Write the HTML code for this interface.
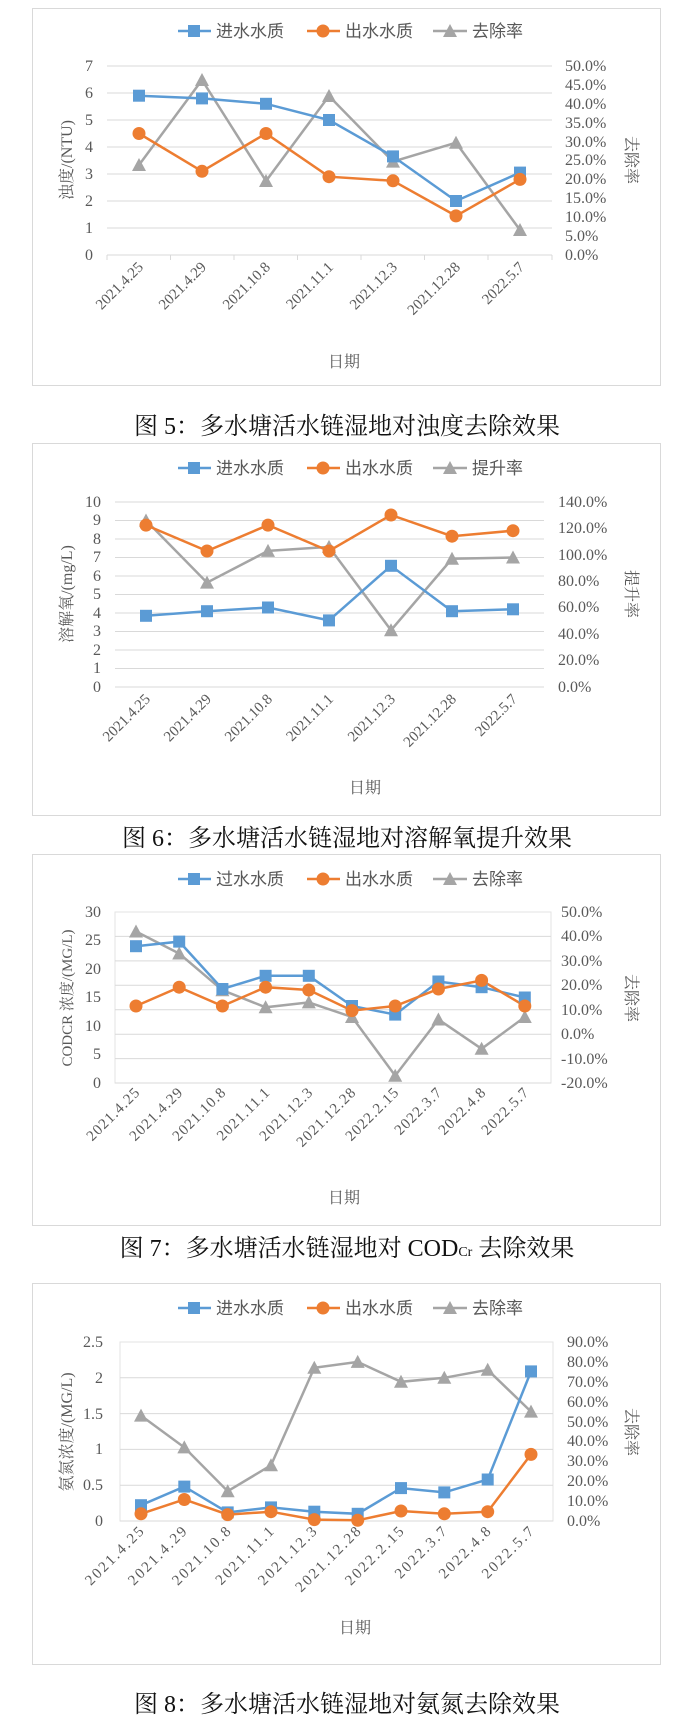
<!DOCTYPE html>
<html><head><meta charset="utf-8"><style>
html,body{margin:0;padding:0;background:#fff}
svg{display:block}
.t{font-family:"Liberation Serif","Noto Serif CJK SC",serif;fill:#595959;font-size:16px}
.x{font-size:15px}
.lg{font-family:"Liberation Sans","Noto Sans CJK SC",sans-serif;fill:#595959;font-size:17px}
.cap{font-family:"Liberation Serif","Noto Serif CJK SC",serif;fill:#111;font-size:24px}
.g{stroke:#d9d9d9;stroke-width:1}
.b{fill:none;stroke:#5b9bd5;stroke-width:2.5}
.o{fill:none;stroke:#ed7d31;stroke-width:2.5}
.y{fill:none;stroke:#a5a5a5;stroke-width:2.5}
</style></head><body>
<svg width="694" height="1725" viewBox="0 0 694 1725" xmlns="http://www.w3.org/2000/svg">
<defs>
<rect id="sq" x="-6" y="-6" width="12" height="12" fill="#5b9bd5"/>
<circle id="ci" r="6.5" fill="#ed7d31"/>
<polygon id="tr" points="0,-7 7,6 -7,6" fill="#a5a5a5"/>
</defs>

<!-- ============ CHART 1 ============ -->
<rect x="32.5" y="8.5" width="628" height="377" fill="#fff" stroke="#d9d9d9"/>
<g>
<line x1="178" y1="31" x2="211" y2="31" stroke="#5b9bd5" stroke-width="2.5"/><use href="#sq" x="194" y="31"/><text class="lg" x="216" y="37">进水水质</text>
<line x1="307" y1="31" x2="340" y2="31" stroke="#ed7d31" stroke-width="2.5"/><use href="#ci" x="323" y="31"/><text class="lg" x="345" y="37">出水水质</text>
<line x1="433" y1="31" x2="467" y2="31" stroke="#a5a5a5" stroke-width="2.5"/><use href="#tr" x="450" y="31"/><text class="lg" x="472" y="37">去除率</text>
</g>
<g class="g">
<line x1="107" y1="66" x2="552" y2="66"/><line x1="107" y1="93" x2="552" y2="93"/><line x1="107" y1="120" x2="552" y2="120"/><line x1="107" y1="147" x2="552" y2="147"/><line x1="107" y1="174" x2="552" y2="174"/><line x1="107" y1="201" x2="552" y2="201"/><line x1="107" y1="228" x2="552" y2="228"/><line x1="107" y1="255" x2="552" y2="255"/>
<line x1="107" y1="255" x2="107" y2="260"/><line x1="170.5" y1="255" x2="170.5" y2="260"/><line x1="234" y1="255" x2="234" y2="260"/><line x1="297.5" y1="255" x2="297.5" y2="260"/><line x1="361" y1="255" x2="361" y2="260"/><line x1="424.5" y1="255" x2="424.5" y2="260"/><line x1="488" y1="255" x2="488" y2="260"/><line x1="552" y1="255" x2="552" y2="260"/>
</g>
<g class="t" text-anchor="end">
<text x="93" y="71">7</text><text x="93" y="98">6</text><text x="93" y="125">5</text><text x="93" y="152">4</text><text x="93" y="179">3</text><text x="93" y="206">2</text><text x="93" y="233">1</text><text x="93" y="260">0</text>
</g>
<g class="t">
<text x="565" y="71">50.0%</text><text x="565" y="90">45.0%</text><text x="565" y="109">40.0%</text><text x="565" y="128">35.0%</text><text x="565" y="147">30.0%</text><text x="565" y="165">25.0%</text><text x="565" y="184">20.0%</text><text x="565" y="203">15.0%</text><text x="565" y="222">10.0%</text><text x="565" y="241">5.0%</text><text x="565" y="260">0.0%</text>
</g>
<text class="t" transform="translate(72,160) rotate(-90)" text-anchor="middle">浊度/(NTU)</text>
<text class="t" transform="translate(626,160) rotate(90)" text-anchor="middle">去除率</text>
<g class="t x" text-anchor="end">
<text transform="translate(144,268) rotate(-45)">2021.4.25</text>
<text transform="translate(207,268) rotate(-45)">2021.4.29</text>
<text transform="translate(271,268) rotate(-45)">2021.10.8</text>
<text transform="translate(334,268) rotate(-45)">2021.11.1</text>
<text transform="translate(398,268) rotate(-45)">2021.12.3</text>
<text transform="translate(461,268) rotate(-45)">2021.12.28</text>
<text transform="translate(525,268) rotate(-45)">2022.5.7</text>
</g>
<text class="t" x="344" y="367" text-anchor="middle">日期</text>
<polyline class="y" points="139,165 202,80 266,181 329,96 393,161.6 456,142.7 520,230"/>
<polyline class="b" points="139,95.7 202,98.4 266,103.8 329,120 393,156.4 456,201 520,172.6"/>
<polyline class="o" points="139,133.5 202,171.3 266,133.5 329,176.7 393,180.8 456,215.9 520,179.4"/>
<use href="#tr" x="139" y="165"/><use href="#tr" x="202" y="80"/><use href="#tr" x="266" y="181"/><use href="#tr" x="329" y="96"/><use href="#tr" x="393" y="161.6"/><use href="#tr" x="456" y="142.7"/><use href="#tr" x="520" y="230"/>
<use href="#sq" x="139" y="95.7"/><use href="#sq" x="202" y="98.4"/><use href="#sq" x="266" y="103.8"/><use href="#sq" x="329" y="120"/><use href="#sq" x="393" y="156.4"/><use href="#sq" x="456" y="201"/><use href="#sq" x="520" y="172.6"/>
<use href="#ci" x="139" y="133.5"/><use href="#ci" x="202" y="171.3"/><use href="#ci" x="266" y="133.5"/><use href="#ci" x="329" y="176.7"/><use href="#ci" x="393" y="180.8"/><use href="#ci" x="456" y="215.9"/><use href="#ci" x="520" y="179.4"/>
<text class="cap" x="347" y="434" text-anchor="middle">图 5：多水塘活水链湿地对浊度去除效果</text>

<!-- ============ CHART 2 ============ -->
<rect x="32.5" y="443.5" width="628" height="372" fill="#fff" stroke="#d9d9d9"/>
<g>
<line x1="178" y1="468" x2="211" y2="468" stroke="#5b9bd5" stroke-width="2.5"/><use href="#sq" x="194" y="468"/><text class="lg" x="216" y="474">进水水质</text>
<line x1="307" y1="468" x2="340" y2="468" stroke="#ed7d31" stroke-width="2.5"/><use href="#ci" x="323" y="468"/><text class="lg" x="345" y="474">出水水质</text>
<line x1="433" y1="468" x2="467" y2="468" stroke="#a5a5a5" stroke-width="2.5"/><use href="#tr" x="450" y="468"/><text class="lg" x="472" y="474">提升率</text>
</g>
<g class="g">
<line x1="115" y1="502" x2="544" y2="502"/><line x1="115" y1="520.5" x2="544" y2="520.5"/><line x1="115" y1="539" x2="544" y2="539"/><line x1="115" y1="557.5" x2="544" y2="557.5"/><line x1="115" y1="576" x2="544" y2="576"/><line x1="115" y1="594.5" x2="544" y2="594.5"/><line x1="115" y1="613" x2="544" y2="613"/><line x1="115" y1="631.5" x2="544" y2="631.5"/><line x1="115" y1="650" x2="544" y2="650"/><line x1="115" y1="668.5" x2="544" y2="668.5"/><line x1="115" y1="687" x2="544" y2="687"/>
</g>
<g class="t" text-anchor="end">
<text x="101" y="507">10</text><text x="101" y="525">9</text><text x="101" y="544">8</text><text x="101" y="562">7</text><text x="101" y="581">6</text><text x="101" y="599">5</text><text x="101" y="618">4</text><text x="101" y="636">3</text><text x="101" y="655">2</text><text x="101" y="673">1</text><text x="101" y="692">0</text>
</g>
<g class="t">
<text x="558" y="507">140.0%</text><text x="558" y="533">120.0%</text><text x="558" y="560">100.0%</text><text x="558" y="586">80.0%</text><text x="558" y="612">60.0%</text><text x="558" y="639">40.0%</text><text x="558" y="665">20.0%</text><text x="558" y="692">0.0%</text>
</g>
<text class="t" transform="translate(72,594) rotate(-90)" text-anchor="middle">溶解氧/(mg/L)</text>
<text class="t" transform="translate(626,594) rotate(90)" text-anchor="middle">提升率</text>
<g class="t x" text-anchor="end">
<text transform="translate(151,700) rotate(-45)">2021.4.25</text>
<text transform="translate(212,700) rotate(-45)">2021.4.29</text>
<text transform="translate(273,700) rotate(-45)">2021.10.8</text>
<text transform="translate(334,700) rotate(-45)">2021.11.1</text>
<text transform="translate(396,700) rotate(-45)">2021.12.3</text>
<text transform="translate(457,700) rotate(-45)">2021.12.28</text>
<text transform="translate(518,700) rotate(-45)">2022.5.7</text>
</g>
<text class="t" x="365" y="793" text-anchor="middle">日期</text>
<polyline class="y" points="146,520.5 207,582.6 268,550.9 329,546.9 391,630.2 452,558.8 513,557.5"/>
<polyline class="b" points="146,615.8 207,611.2 268,607.5 329,620.4 391,565.8 452,611.2 513,609.3"/>
<polyline class="o" points="146,525.1 207,551 268,525.1 329,551 391,515 452,536.2 513,530.7"/>
<use href="#tr" x="146" y="520.5"/><use href="#tr" x="207" y="582.6"/><use href="#tr" x="268" y="550.9"/><use href="#tr" x="329" y="546.9"/><use href="#tr" x="391" y="630.2"/><use href="#tr" x="452" y="558.8"/><use href="#tr" x="513" y="557.5"/>
<use href="#sq" x="146" y="615.8"/><use href="#sq" x="207" y="611.2"/><use href="#sq" x="268" y="607.5"/><use href="#sq" x="329" y="620.4"/><use href="#sq" x="391" y="565.8"/><use href="#sq" x="452" y="611.2"/><use href="#sq" x="513" y="609.3"/>
<use href="#ci" x="146" y="525.1"/><use href="#ci" x="207" y="551"/><use href="#ci" x="268" y="525.1"/><use href="#ci" x="329" y="551"/><use href="#ci" x="391" y="515"/><use href="#ci" x="452" y="536.2"/><use href="#ci" x="513" y="530.7"/>
<text class="cap" x="347" y="846" text-anchor="middle">图 6：多水塘活水链湿地对溶解氧提升效果</text>

<!-- ============ CHART 3 ============ -->
<rect x="32.5" y="854.5" width="628" height="371" fill="#fff" stroke="#d9d9d9"/>
<g>
<line x1="178" y1="879" x2="211" y2="879" stroke="#5b9bd5" stroke-width="2.5"/><use href="#sq" x="194" y="879"/><text class="lg" x="216" y="885">过水水质</text>
<line x1="307" y1="879" x2="340" y2="879" stroke="#ed7d31" stroke-width="2.5"/><use href="#ci" x="323" y="879"/><text class="lg" x="345" y="885">出水水质</text>
<line x1="433" y1="879" x2="467" y2="879" stroke="#a5a5a5" stroke-width="2.5"/><use href="#tr" x="450" y="879"/><text class="lg" x="472" y="885">去除率</text>
</g>
<rect x="115" y="912" width="436" height="171" fill="none" stroke="#e3e3e3"/>
<g class="g">
<line x1="115" y1="936.4" x2="551" y2="936.4"/><line x1="115" y1="960.9" x2="551" y2="960.9"/><line x1="115" y1="985.3" x2="551" y2="985.3"/><line x1="115" y1="1009.7" x2="551" y2="1009.7"/><line x1="115" y1="1034.2" x2="551" y2="1034.2"/><line x1="115" y1="1058.6" x2="551" y2="1058.6"/><line x1="115" y1="1083" x2="551" y2="1083"/>
</g>
<g class="t" text-anchor="end">
<text x="101" y="917">30</text><text x="101" y="945">25</text><text x="101" y="974">20</text><text x="101" y="1002">15</text><text x="101" y="1031">10</text><text x="101" y="1059">5</text><text x="101" y="1088">0</text>
</g>
<g class="t">
<text x="561" y="917">50.0%</text><text x="561" y="941">40.0%</text><text x="561" y="966">30.0%</text><text x="561" y="990">20.0%</text><text x="561" y="1015">10.0%</text><text x="561" y="1039">0.0%</text><text x="561" y="1064">-10.0%</text><text x="561" y="1088">-20.0%</text>
</g>
<text class="t" transform="translate(72,998) rotate(-90)" text-anchor="middle" style="font-size:15px">CODCR 浓度/(MG/L)</text>
<text class="t" transform="translate(626,998) rotate(90)" text-anchor="middle">去除率</text>
<g class="t x" text-anchor="end" style="letter-spacing:1px">
<text transform="translate(141,1093) rotate(-45)">2021.4.25</text>
<text transform="translate(184,1093) rotate(-45)">2021.4.29</text>
<text transform="translate(227,1093) rotate(-45)">2021.10.8</text>
<text transform="translate(271,1093) rotate(-45)">2021.11.1</text>
<text transform="translate(314,1093) rotate(-45)">2021.12.3</text>
<text transform="translate(357,1093) rotate(-45)">2021.12.28</text>
<text transform="translate(400,1093) rotate(-45)">2022.2.15</text>
<text transform="translate(443,1093) rotate(-45)">2022.3.7</text>
<text transform="translate(487,1093) rotate(-45)">2022.4.8</text>
<text transform="translate(530,1093) rotate(-45)">2022.5.7</text>
</g>
<text class="t" x="344" y="1203" text-anchor="middle">日期</text>
<polyline class="y" points="136,931.5 179.2,953.5 222.4,990.2 265.6,1007.3 308.8,1002.4 352,1017 395.2,1075.7 438.4,1019.5 481.6,1048.8 524.8,1017"/>
<polyline class="b" points="136,946.2 179.2,941.6 222.4,989 265.6,975.8 308.8,975.8 352,1006 395.2,1014.6 438.4,981.5 481.6,987.2 524.8,997.5"/>
<polyline class="o" points="136,1006 179.2,987.2 222.4,1006 265.6,987.2 308.8,990 352,1010.6 395.2,1006 438.4,989 481.6,980.4 524.8,1006"/>
<use href="#tr" x="136" y="931.5"/><use href="#tr" x="179.2" y="953.5"/><use href="#tr" x="222.4" y="990.2"/><use href="#tr" x="265.6" y="1007.3"/><use href="#tr" x="308.8" y="1002.4"/><use href="#tr" x="352" y="1017"/><use href="#tr" x="395.2" y="1075.7"/><use href="#tr" x="438.4" y="1019.5"/><use href="#tr" x="481.6" y="1048.8"/><use href="#tr" x="524.8" y="1017"/>
<use href="#sq" x="136" y="946.2"/><use href="#sq" x="179.2" y="941.6"/><use href="#sq" x="222.4" y="989"/><use href="#sq" x="265.6" y="975.8"/><use href="#sq" x="308.8" y="975.8"/><use href="#sq" x="352" y="1006"/><use href="#sq" x="395.2" y="1014.6"/><use href="#sq" x="438.4" y="981.5"/><use href="#sq" x="481.6" y="987.2"/><use href="#sq" x="524.8" y="997.5"/>
<use href="#ci" x="136" y="1006"/><use href="#ci" x="179.2" y="987.2"/><use href="#ci" x="222.4" y="1006"/><use href="#ci" x="265.6" y="987.2"/><use href="#ci" x="308.8" y="990"/><use href="#ci" x="352" y="1010.6"/><use href="#ci" x="395.2" y="1006"/><use href="#ci" x="438.4" y="989"/><use href="#ci" x="481.6" y="980.4"/><use href="#ci" x="524.8" y="1006"/>
<text class="cap" x="347" y="1256" text-anchor="middle">图 7：多水塘活水链湿地对 COD<tspan style="font-size:14px">Cr</tspan> 去除效果</text>

<!-- ============ CHART 4 ============ -->
<rect x="32.5" y="1283.5" width="628" height="381" fill="#fff" stroke="#d9d9d9"/>
<g>
<line x1="178" y1="1308" x2="211" y2="1308" stroke="#5b9bd5" stroke-width="2.5"/><use href="#sq" x="194" y="1308"/><text class="lg" x="216" y="1314">进水水质</text>
<line x1="307" y1="1308" x2="340" y2="1308" stroke="#ed7d31" stroke-width="2.5"/><use href="#ci" x="323" y="1308"/><text class="lg" x="345" y="1314">出水水质</text>
<line x1="433" y1="1308" x2="467" y2="1308" stroke="#a5a5a5" stroke-width="2.5"/><use href="#tr" x="450" y="1308"/><text class="lg" x="472" y="1314">去除率</text>
</g>
<rect x="120" y="1342" width="433" height="179" fill="none" stroke="#e3e3e3"/>
<g class="g">
<line x1="120" y1="1377.8" x2="553" y2="1377.8"/><line x1="120" y1="1413.6" x2="553" y2="1413.6"/><line x1="120" y1="1449.4" x2="553" y2="1449.4"/><line x1="120" y1="1485.2" x2="553" y2="1485.2"/><line x1="120" y1="1521" x2="553" y2="1521"/>
</g>
<g class="t" text-anchor="end">
<text x="103" y="1347">2.5</text><text x="103" y="1383">2</text><text x="103" y="1419">1.5</text><text x="103" y="1454">1</text><text x="103" y="1490">0.5</text><text x="103" y="1526">0</text>
</g>
<g class="t">
<text x="567" y="1347">90.0%</text><text x="567" y="1367">80.0%</text><text x="567" y="1387">70.0%</text><text x="567" y="1407">60.0%</text><text x="567" y="1427">50.0%</text><text x="567" y="1446">40.0%</text><text x="567" y="1466">30.0%</text><text x="567" y="1486">20.0%</text><text x="567" y="1506">10.0%</text><text x="567" y="1526">0.0%</text>
</g>
<text class="t" transform="translate(72,1432) rotate(-90)" text-anchor="middle">氨氮浓度/(MG/L)</text>
<text class="t" transform="translate(626,1432) rotate(90)" text-anchor="middle">去除率</text>
<g class="t x" text-anchor="end" style="letter-spacing:2px">
<text transform="translate(146,1531) rotate(-45)">2021.4.25</text>
<text transform="translate(189,1531) rotate(-45)">2021.4.29</text>
<text transform="translate(233,1531) rotate(-45)">2021.10.8</text>
<text transform="translate(276,1531) rotate(-45)">2021.11.1</text>
<text transform="translate(319,1531) rotate(-45)">2021.12.3</text>
<text transform="translate(363,1531) rotate(-45)">2021.12.28</text>
<text transform="translate(406,1531) rotate(-45)">2022.2.15</text>
<text transform="translate(449,1531) rotate(-45)">2022.3.7</text>
<text transform="translate(493,1531) rotate(-45)">2022.4.8</text>
<text transform="translate(536,1531) rotate(-45)">2022.5.7</text>
</g>
<text class="t" x="355" y="1633" text-anchor="middle">日期</text>
<polyline class="y" points="141,1415.6 184.3,1447.4 227.7,1491.2 271,1465.3 314.3,1367.8 357.7,1361.9 401,1381.8 444.3,1377.8 487.7,1369.8 531,1411.6"/>
<polyline class="b" points="141,1505.2 184.3,1486.6 227.7,1512.4 271,1507.4 314.3,1511.7 357.7,1513.8 401,1488.1 444.3,1492.4 487.7,1479.5 531,1371.4"/>
<polyline class="o" points="141,1513.8 184.3,1499.5 227.7,1514.6 271,1511.7 314.3,1519.6 357.7,1520.3 401,1511 444.3,1513.8 487.7,1511.7 531,1454.4"/>
<use href="#tr" x="141" y="1415.6"/><use href="#tr" x="184.3" y="1447.4"/><use href="#tr" x="227.7" y="1491.2"/><use href="#tr" x="271" y="1465.3"/><use href="#tr" x="314.3" y="1367.8"/><use href="#tr" x="357.7" y="1361.9"/><use href="#tr" x="401" y="1381.8"/><use href="#tr" x="444.3" y="1377.8"/><use href="#tr" x="487.7" y="1369.8"/><use href="#tr" x="531" y="1411.6"/>
<use href="#sq" x="141" y="1505.2"/><use href="#sq" x="184.3" y="1486.6"/><use href="#sq" x="227.7" y="1512.4"/><use href="#sq" x="271" y="1507.4"/><use href="#sq" x="314.3" y="1511.7"/><use href="#sq" x="357.7" y="1513.8"/><use href="#sq" x="401" y="1488.1"/><use href="#sq" x="444.3" y="1492.4"/><use href="#sq" x="487.7" y="1479.5"/><use href="#sq" x="531" y="1371.4"/>
<use href="#ci" x="141" y="1513.8"/><use href="#ci" x="184.3" y="1499.5"/><use href="#ci" x="227.7" y="1514.6"/><use href="#ci" x="271" y="1511.7"/><use href="#ci" x="314.3" y="1519.6"/><use href="#ci" x="357.7" y="1520.3"/><use href="#ci" x="401" y="1511"/><use href="#ci" x="444.3" y="1513.8"/><use href="#ci" x="487.7" y="1511.7"/><use href="#ci" x="531" y="1454.4"/>
<text class="cap" x="347" y="1712" text-anchor="middle">图 8：多水塘活水链湿地对氨氮去除效果</text>
</svg>
</body></html>
